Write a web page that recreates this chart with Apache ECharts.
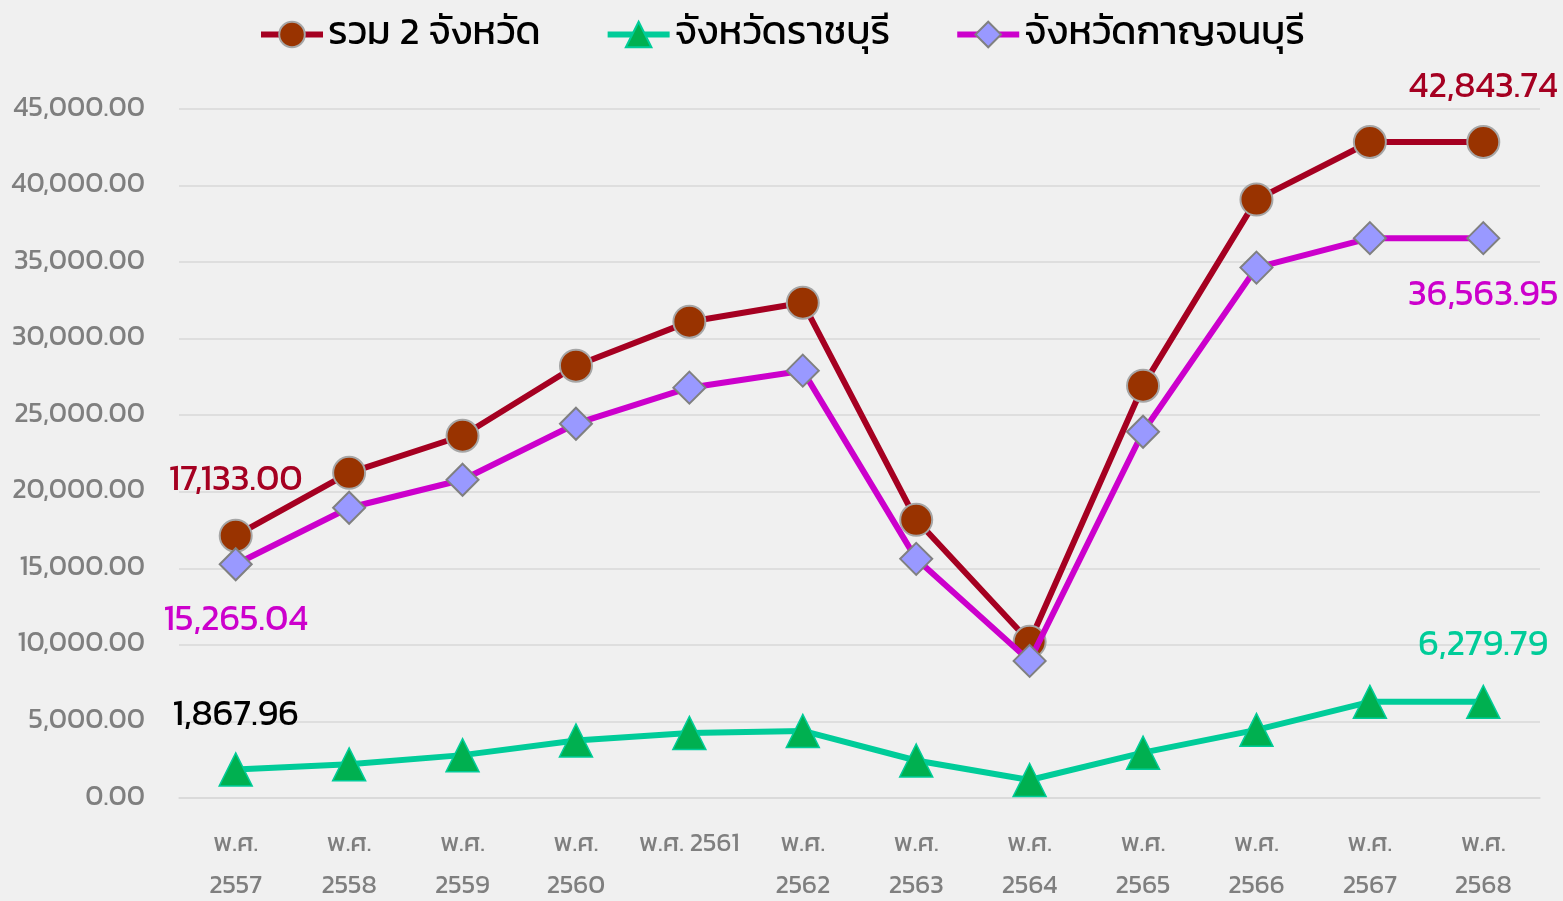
<!DOCTYPE html>
<html><head><meta charset="utf-8">
<script src="https://cdn.jsdelivr.net/npm/echarts@6/dist/echarts.min.js"></script>
<style>html,body{margin:0;padding:0;background:#f0f0f0;}#c{width:1563px;height:901px;}</style>
</head><body><div id="c"></div>
<script>
const categories = ['พ.ศ.\n2557','พ.ศ.\n2558','พ.ศ.\n2559','พ.ศ.\n2560','พ.ศ. 2561','พ.ศ.\n2562','พ.ศ.\n2563','พ.ศ.\n2564','พ.ศ.\n2565','พ.ศ.\n2566','พ.ศ.\n2567','พ.ศ.\n2568'];
const totalName = 'รวม 2 จังหวัด';
const ratchaburiName = 'จังหวัดราชบุรี';
const kanchanaburiName = 'จังหวัดกาญจนบุรี';
const totalValues = [17133.00, 21240, 23660, 28235, 31110, 32350, 18170, 10200, 26930, 39085, 42843.74, 42843.74];
const ratchaburiValues = [1867.96, 2200, 2800, 3760, 4250, 4380, 2450, 1176, 2960, 4450, 6279.79, 6279.79];
const kanchanaburiValues = [15265.04, 18955, 20785, 24445, 26800, 27910, 15620, 8955, 23920, 34640, 36563.95, 36563.95];
const yTicks = [0, 5000, 10000, 15000, 20000, 25000, 30000, 35000, 40000, 45000];

const FONT = "Kanit, Inter, 'Noto Sans', sans-serif";
const fmt = v => Number(v).toLocaleString('en-US', {minimumFractionDigits: 2, maximumFractionDigits: 2});

function labelled(values, idxs, colorFn, dy) {
  return values.map((v, i) => {
    if (idxs.indexOf(i) < 0) return v;
    return {value: v, label: {show: true, position: 'inside', offset: [0, dy[idxs.indexOf(i)]],
      color: colorFn(i), fontSize: 36, fontFamily: FONT, formatter: p => fmt(p.value)}};
  });
}
const last = categories.length - 1;

const chart = echarts.init(document.getElementById('c'));
chart.setOption({
  backgroundColor: '#f0f0f0',
  animation: false,
  legend: {
    top: 10, left: 'center', itemWidth: 62, itemHeight: 32, itemGap: 64,
    lineStyle: {width: 6},
    textStyle: {fontSize: 39, color: '#000', fontFamily: FONT},
    data: [totalName, ratchaburiName, kanchanaburiName]
  },
  grid: {left: 179, right: 23, top: 109, bottom: 103, containLabel: false, outerBoundsMode: 'none'},
  xAxis: {
    type: 'category', data: categories, boundaryGap: true,
    axisLine: {show: true, lineStyle: {color: '#d9d9d9', width: 1.5}},
    axisTick: {show: false},
    axisLabel: {color: '#7f7f7f', fontSize: 26, fontFamily: FONT, lineHeight: 42, margin: 26, interval: 0}
  },
  yAxis: {
    type: 'value', min: yTicks[0], max: yTicks[yTicks.length - 1], interval: yTicks[1] - yTicks[0],
    axisLine: {show: false}, axisTick: {show: false},
    splitLine: {lineStyle: {color: '#d9d9d9', width: 1.5}},
    axisLabel: {color: '#7f7f7f', fontSize: 28, fontFamily: FONT, margin: 34, formatter: v => fmt(v)}
  },
  series: [
    {
      name: totalName, type: 'line', z: 3,
      data: labelled(totalValues, [0, last], () => '#a50021', [-54, -53]),
      lineStyle: {color: '#a50021', width: 6},
      symbol: 'circle', symbolSize: 32,
      itemStyle: {color: '#993300', borderColor: '#a6a6a6', borderWidth: 2}
    },
    {
      name: ratchaburiName, type: 'line', z: 2,
      data: labelled(ratchaburiValues, [0, last], i => i === 0 ? '#000000' : '#00cc99', [-53, -55]),
      lineStyle: {color: '#00cc99', width: 6},
      symbol: 'triangle', symbolSize: 33,
      itemStyle: {color: '#00b050', borderColor: '#00cc99', borderWidth: 1.5}
    },
    {
      name: kanchanaburiName, type: 'line', z: 4,
      data: labelled(kanchanaburiValues, [0, last], () => '#cc00cc', [57, 58]),
      lineStyle: {color: '#cc00cc', width: 6},
      symbol: 'diamond', symbolSize: 32,
      itemStyle: {color: '#9999ff', borderColor: '#808080', borderWidth: 2}
    }
  ]
});
</script></body></html>
